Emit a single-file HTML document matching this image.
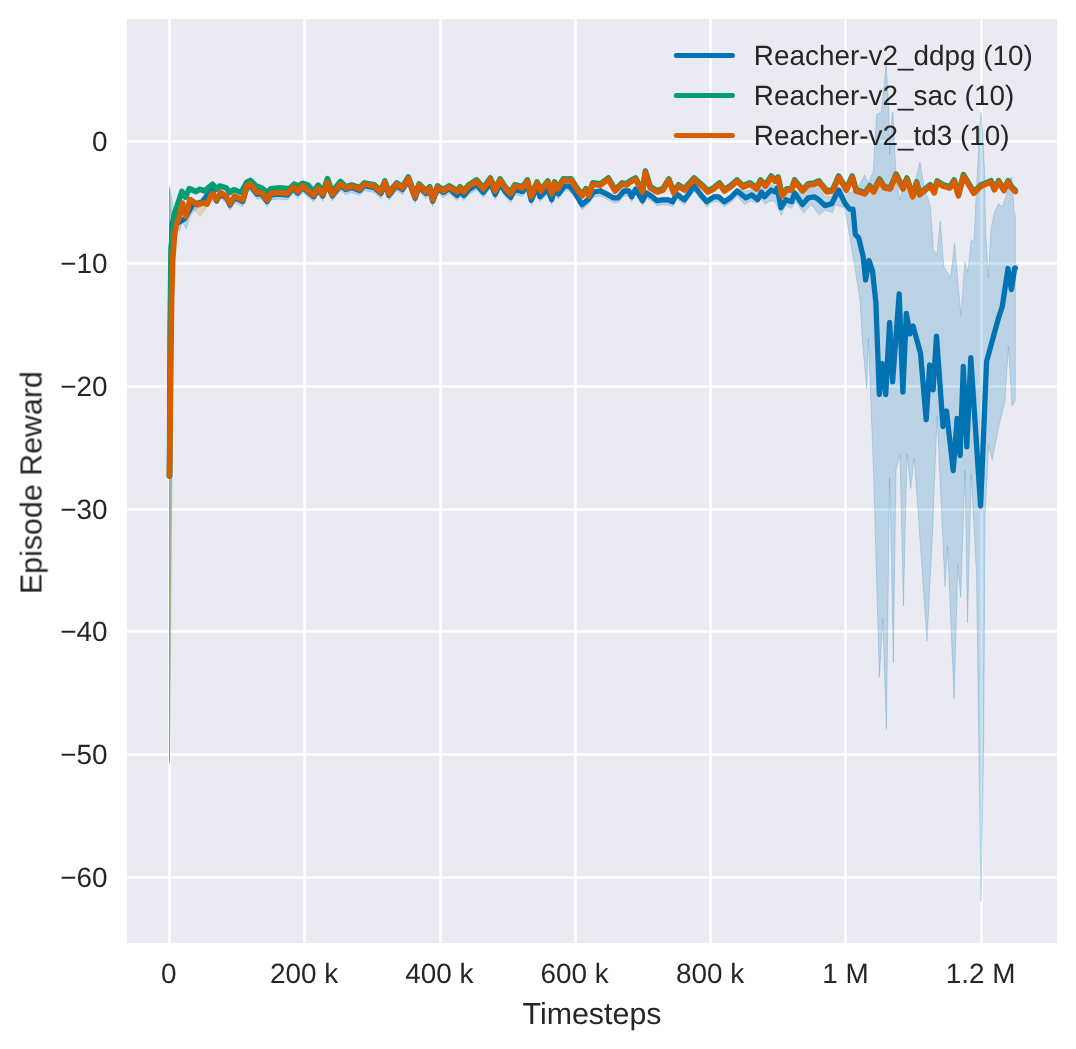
<!DOCTYPE html>
<html><head><meta charset="utf-8"><style>
html,body{margin:0;padding:0;background:#fff;width:1076px;height:1049px;overflow:hidden;}
svg{display:block;}
text{font-family:"Liberation Sans",sans-serif;fill:#262626;text-rendering:geometricPrecision;}
</style></head><body>
<svg width="1076" height="1049" viewBox="0 0 1076 1049">
<rect x="127" y="19" width="930" height="924" fill="#eaeaf2"/>
<line x1="169.5" y1="19" x2="169.5" y2="943" stroke="#fff" stroke-width="2.5"/>
<line x1="304.5" y1="19" x2="304.5" y2="943" stroke="#fff" stroke-width="2.5"/>
<line x1="440.5" y1="19" x2="440.5" y2="943" stroke="#fff" stroke-width="2.5"/>
<line x1="575.5" y1="19" x2="575.5" y2="943" stroke="#fff" stroke-width="2.5"/>
<line x1="710.5" y1="19" x2="710.5" y2="943" stroke="#fff" stroke-width="2.5"/>
<line x1="845.5" y1="19" x2="845.5" y2="943" stroke="#fff" stroke-width="2.5"/>
<line x1="981.5" y1="19" x2="981.5" y2="943" stroke="#fff" stroke-width="2.5"/>
<line x1="127" y1="141.50" x2="1057" y2="141.50" stroke="#fff" stroke-width="2.5"/>
<line x1="127" y1="263.50" x2="1057" y2="263.50" stroke="#fff" stroke-width="2.5"/>
<line x1="127" y1="386.50" x2="1057" y2="386.50" stroke="#fff" stroke-width="2.5"/>
<line x1="127" y1="509.50" x2="1057" y2="509.50" stroke="#fff" stroke-width="2.5"/>
<line x1="127" y1="631.50" x2="1057" y2="631.50" stroke="#fff" stroke-width="2.5"/>
<line x1="127" y1="754.50" x2="1057" y2="754.50" stroke="#fff" stroke-width="2.5"/>
<line x1="127" y1="877.50" x2="1057" y2="877.50" stroke="#fff" stroke-width="2.5"/>
<path d="M169.5,188.0 L172.0,222.5 L175.0,209.5 L179.5,219.5 L184.9,216.0 L192.6,202.2 L202.3,199.4 L211.5,186.8 L216.6,198.5 L220.6,191.5 L226.2,195.2 L229.9,202.7 L234.6,195.2 L242.9,199.0 L246.7,185.0 L250.4,183.2 L256.9,191.5 L261.5,191.5 L267.1,199.0 L270.8,192.5 L278.3,191.5 L287.5,192.5 L293.1,186.0 L297.8,190.6 L302.4,185.0 L313.6,194.3 L318.2,186.9 L322.9,193.4 L327.5,181.3 L332.2,193.4 L340.5,183.2 L345.9,187.1 L351.7,185.1 L359.5,188.0 L364.4,183.2 L374.2,185.1 L381.0,191.0 L384.9,181.2 L388.8,192.9 L396.6,183.2 L402.5,187.1 L408.3,177.3 L415.1,195.8 L419.0,184.1 L425.9,191.0 L429.8,187.1 L432.7,198.8 L437.6,186.1 L443.4,190.0 L449.3,186.1 L457.1,193.0 L460.0,189.1 L463.9,193.0 L468.8,187.1 L476.6,182.2 L483.4,190.0 L490.3,180.3 L495.2,192.0 L500.0,181.2 L505.9,190.0 L510.8,194.9 L514.7,187.1 L522.5,189.1 L527.4,182.2 L531.3,197.8 L537.1,184.2 L540.0,194.3 L547.8,186.5 L551.7,197.3 L554.6,187.5 L558.5,191.4 L564.4,183.6 L569.3,183.6 L575.1,190.4 L582.0,202.1 L587.8,197.3 L593.7,189.5 L600.5,188.5 L606.4,191.4 L613.2,195.3 L618.1,195.3 L623.9,188.5 L628.8,188.5 L631.7,194.3 L635.6,186.5 L642.5,198.2 L646.4,190.4 L651.2,193.4 L657.1,198.2 L663.0,197.3 L667.8,197.3 L672.7,199.2 L676.6,191.4 L684.4,197.3 L694.2,183.6 L701.0,192.4 L706.9,199.2 L713.7,194.3 L718.6,194.3 L724.4,199.2 L730.3,195.3 L737.1,188.5 L744.0,191.2 L751.2,190.0 L760.0,188.0 L771.2,184.5 L775.0,186.0 L784.6,194.5 L793.5,189.0 L802.5,195.6 L809.1,189.0 L817.0,186.2 L824.8,196.2 L831.4,196.8 L838.1,184.5 L835.0,197.6 L839.8,188.0 L849.3,192.9 L856.4,190.5 L864.8,175.0 L868.3,183.3 L873.1,171.4 L876.7,114.3 L881.4,111.9 L886.2,64.3 L888.3,100.0 L889.8,154.8 L891.5,120.0 L892.9,112.0 L895.7,169.0 L899.3,200.0 L906.4,178.0 L913.6,188.0 L920.0,162.0 L924.3,188.0 L930.2,205.0 L933.5,249.9 L936.9,255.0 L940.3,220.7 L943.8,267.0 L950.6,277.3 L954.6,243.0 L960.9,315.1 L964.9,261.9 L967.8,272.2 L971.2,239.6 L973.8,243.0 L976.4,191.5 L979.5,130.0 L981.0,112.0 L982.5,130.0 L984.5,170.0 L985.8,236.0 L988.4,277.3 L991.0,229.3 L994.4,212.1 L998.7,203.5 L1002.1,207.0 L1006.4,195.0 L1011.6,176.9 L1014.2,212.0 L1015.3,215.0 L1015.3,400.0 L1012.0,406.0 L1008.4,346.6 L1004.9,401.7 L999.4,423.5 L992.2,459.7 L988.6,445.0 L985.0,517.7 L983.7,740.0 L981.0,901.4 L976.5,574.0 L971.2,474.2 L967.5,622.8 L965.0,470.6 L960.7,597.4 L957.8,564.8 L954.1,698.8 L947.6,546.7 L945.0,586.5 L937.1,416.0 L932.4,535.8 L927.0,640.9 L920.0,540.0 L914.3,458.0 L910.7,488.7 L907.0,454.0 L903.4,606.0 L900.0,455.0 L896.0,470.0 L893.3,662.6 L891.5,560.0 L889.6,478.0 L886.4,729.6 L882.8,619.0 L879.3,677.0 L874.4,500.0 L872.0,430.0 L868.4,339.0 L866.7,388.7 L862.2,339.0 L860.0,300.0 L854.5,265.0 L846.9,221.0 L844.5,208.0 L835.0,204.8 L832.6,212.4 L824.8,210.0 L819.2,215.2 L811.4,204.5 L803.6,212.9 L795.8,202.0 L791.3,208.5 L785.7,205.0 L781.3,215.2 L774.6,201.1 L770.0,201.0 L765.1,204.0 L761.0,199.0 L756.7,203.2 L751.2,201.0 L744.5,204.6 L737.1,196.0 L730.3,202.8 L724.4,206.7 L718.6,201.8 L713.7,201.8 L706.9,206.7 L701.0,199.9 L694.2,191.1 L684.4,204.8 L676.6,198.9 L672.7,206.7 L667.8,204.8 L663.0,204.8 L657.1,205.7 L651.2,200.9 L646.4,197.9 L642.5,205.7 L635.6,194.0 L631.7,201.8 L628.8,196.0 L623.9,196.0 L618.1,202.8 L613.2,202.8 L606.4,198.9 L600.5,196.0 L593.7,197.0 L587.8,204.8 L582.0,209.6 L575.1,197.9 L569.3,191.1 L564.4,191.1 L558.5,198.9 L554.6,195.0 L551.7,204.8 L547.8,194.0 L540.0,201.8 L537.1,191.7 L531.3,205.3 L527.4,189.7 L522.5,196.6 L514.7,194.6 L510.8,202.4 L505.9,197.5 L500.0,188.7 L495.2,199.5 L490.3,187.8 L483.4,197.5 L476.6,189.7 L468.8,194.6 L463.9,200.5 L460.0,196.6 L457.1,200.5 L449.3,193.6 L443.4,197.5 L437.6,193.6 L432.7,206.3 L429.8,194.6 L425.9,198.5 L419.0,191.6 L415.1,203.3 L408.3,184.8 L402.5,194.6 L396.6,190.7 L388.8,200.4 L384.9,188.7 L381.0,198.5 L374.2,192.6 L364.4,190.7 L359.5,195.5 L351.7,192.6 L345.9,194.6 L340.5,190.7 L332.2,200.9 L327.5,188.8 L322.9,200.9 L318.2,194.4 L313.6,201.8 L302.4,192.5 L297.8,198.1 L293.1,193.5 L287.5,200.0 L278.3,199.0 L270.8,200.0 L267.1,206.5 L261.5,199.0 L256.9,199.0 L250.4,190.7 L246.7,192.5 L242.9,206.5 L234.6,202.7 L229.9,210.2 L226.2,202.7 L220.6,198.0 L216.6,204.0 L211.5,194.0 L207.0,203.0 L202.3,206.0 L196.0,209.0 L190.0,216.0 L186.2,229.0 L182.5,222.0 L179.3,231.0 L175.0,220.0 L172.0,232.0 L169.5,764.0Z" fill="#0173b2" fill-opacity="0.2" stroke="#0173b2" stroke-opacity="0.2" stroke-width="1" stroke-linejoin="miter" stroke-miterlimit="3"/>
<path d="M169.5,186.0 L174.4,212.8 L181.9,189.9 L185.3,195.6 L189.3,187.1 L196.0,190.1 L200.0,187.8 L204.6,189.5 L212.6,182.7 L216.6,187.8 L219.7,184.5 L226.2,186.4 L229.9,191.0 L233.6,188.2 L241.1,191.0 L246.7,180.8 L250.4,178.9 L255.9,184.5 L261.5,186.4 L267.1,191.0 L270.8,187.3 L280.1,186.4 L289.4,187.3 L294.1,182.7 L298.7,184.5 L302.4,181.7 L308.0,183.6 L313.6,190.1 L318.2,183.6 L322.9,190.1 L327.5,177.1 L332.2,190.1 L340.5,179.9 L345.9,185.3 L351.7,183.3 L359.5,186.2 L364.4,181.4 L374.2,183.3 L381.0,189.2 L384.9,179.4 L388.8,191.1 L396.6,181.4 L402.5,185.3 L408.3,175.5 L415.1,194.0 L419.0,182.3 L425.9,189.2 L429.8,185.3 L432.7,197.0 L437.6,184.3 L443.4,188.2 L449.3,184.3 L457.1,189.2 L460.0,185.3 L463.9,189.2 L468.8,183.3 L476.6,178.4 L483.4,186.2 L490.3,176.5 L495.2,188.2 L500.0,177.4 L505.9,186.2 L510.8,191.1 L514.7,183.3 L522.5,185.3 L527.4,178.4 L531.3,194.0 L537.1,180.4 L541.0,188.2 L547.8,179.4 L551.7,191.1 L554.6,180.4 L557.6,186.2 L563.4,177.4 L571.2,177.4 L576.1,185.3 L582.0,193.1 L585.9,187.2 L588.8,193.1 L592.7,181.4 L600.5,182.3 L608.3,176.5 L615.1,188.2 L622.0,181.4 L626.8,182.3 L629.8,179.4 L635.6,176.5 L642.5,189.2 L645.4,169.6 L650.3,185.3 L657.1,189.2 L663.0,187.2 L668.8,177.4 L673.7,190.1 L678.6,183.3 L684.4,187.2 L694.2,176.5 L702.0,183.3 L707.8,189.2 L713.7,186.2 L719.5,181.4 L724.4,188.2 L730.3,184.3 L737.1,178.4 L743.0,184.3 L749.8,181.4 L756.6,186.2 L760.5,178.4 L765.4,183.3 L771.2,174.5 L775.1,178.4 L778.1,175.5 L782.0,193.1 L786.8,187.2 L791.7,187.2 L794.6,178.4 L802.5,188.2 L808.3,182.3 L814.2,181.4 L819.0,179.4 L826.8,189.2 L832.7,188.2 L838.6,174.5 L846.4,187.2 L852.2,174.5 L856.1,188.2 L864.9,191.1 L869.8,184.3 L873.7,189.2 L879.5,177.4 L884.4,185.3 L890.3,186.2 L896.1,172.6 L903.0,186.2 L906.9,176.5 L912.7,194.0 L916.6,180.4 L919.5,192.1 L925.4,187.2 L930.3,183.3 L934.2,190.1 L937.1,179.4 L943.0,183.3 L949.8,185.2 L954.1,178.4 L958.4,193.0 L963.5,173.2 L973.8,190.4 L980.7,183.6 L991.0,179.2 L994.4,187.0 L998.7,179.2 L1003.9,187.8 L1008.2,179.2 L1011.6,185.2 L1015.3,188.7 L1015.3,192.2 L1011.6,188.7 L1008.2,182.7 L1003.9,191.3 L998.7,182.7 L994.4,190.5 L991.0,182.7 L980.7,187.1 L973.8,193.9 L963.5,176.7 L958.4,196.5 L954.1,181.9 L949.8,188.7 L943.0,186.8 L937.1,182.9 L934.2,193.6 L930.3,186.8 L925.4,190.7 L919.5,195.6 L916.6,183.9 L912.7,197.5 L906.9,180.0 L903.0,189.7 L896.1,176.1 L890.3,189.7 L884.4,188.8 L879.5,180.9 L873.7,192.7 L869.8,187.8 L864.9,194.6 L856.1,191.7 L852.2,178.0 L846.4,190.7 L838.6,178.0 L832.7,191.7 L826.8,192.7 L819.0,182.9 L814.2,184.9 L808.3,185.8 L802.5,191.7 L794.6,181.9 L791.7,190.7 L786.8,190.7 L782.0,196.6 L778.1,179.0 L775.1,181.9 L771.2,178.0 L765.4,186.8 L760.5,181.9 L756.6,189.7 L749.8,184.9 L743.0,187.8 L737.1,181.9 L730.3,187.8 L724.4,191.7 L719.5,184.9 L713.7,189.7 L707.8,192.7 L702.0,186.8 L694.2,180.0 L684.4,190.7 L678.6,186.8 L673.7,193.6 L668.8,180.9 L663.0,190.7 L657.1,192.7 L650.3,188.8 L645.4,173.1 L642.5,192.7 L635.6,180.0 L629.8,182.9 L626.8,185.8 L622.0,184.9 L615.1,191.7 L608.3,180.0 L600.5,185.8 L592.7,184.9 L588.8,196.6 L585.9,190.7 L582.0,196.6 L576.1,188.8 L571.2,180.9 L563.4,180.9 L557.6,189.7 L554.6,183.9 L551.7,194.6 L547.8,182.9 L541.0,191.7 L537.1,183.9 L531.3,197.5 L527.4,181.9 L522.5,188.8 L514.7,186.8 L510.8,194.6 L505.9,189.7 L500.0,180.9 L495.2,191.7 L490.3,180.0 L483.4,189.7 L476.6,181.9 L468.8,186.8 L463.9,192.7 L460.0,188.8 L457.1,192.7 L449.3,187.8 L443.4,191.7 L437.6,187.8 L432.7,200.5 L429.8,188.8 L425.9,192.7 L419.0,185.8 L415.1,197.5 L408.3,179.0 L402.5,188.8 L396.6,184.9 L388.8,194.6 L384.9,182.9 L381.0,192.7 L374.2,186.8 L364.4,184.9 L359.5,189.7 L351.7,186.8 L345.9,188.8 L340.5,183.4 L332.2,193.6 L327.5,180.6 L322.9,193.6 L318.2,187.1 L313.6,193.6 L308.0,187.1 L302.4,185.2 L298.7,188.0 L294.1,186.2 L289.4,190.8 L280.1,189.9 L270.8,190.8 L267.1,194.5 L261.5,189.9 L255.9,188.0 L250.4,182.4 L246.7,184.3 L241.1,194.5 L233.6,191.7 L229.9,194.5 L226.2,189.9 L219.7,188.0 L216.6,191.3 L212.6,186.2 L204.6,193.0 L200.0,191.3 L196.0,193.6 L189.3,190.6 L185.3,199.1 L181.9,193.4 L174.4,216.3 L169.5,760.0Z" fill="#029e73" fill-opacity="0.2" stroke="#029e73" stroke-opacity="0.2" stroke-width="1" stroke-linejoin="miter" stroke-miterlimit="3"/>
<path d="M169.5,190.0 L171.6,298.5 L172.7,258.5 L174.4,235.5 L176.1,224.2 L179.0,216.2 L182.4,201.4 L185.9,215.1 L189.9,197.9 L197.3,203.1 L203.0,201.4 L206.9,202.7 L212.1,191.8 L216.6,198.1 L220.6,191.0 L226.2,194.7 L229.9,202.2 L234.6,194.7 L242.9,198.5 L246.7,184.5 L250.4,182.7 L256.9,191.0 L261.5,191.0 L267.1,198.5 L270.8,192.0 L278.3,191.0 L287.5,192.0 L293.1,185.5 L297.8,190.1 L302.4,184.5 L313.6,193.8 L318.2,186.4 L322.9,192.9 L327.5,180.8 L332.2,192.9 L340.5,182.7 L345.9,186.6 L351.7,184.6 L359.5,187.5 L364.4,182.7 L374.2,184.6 L381.0,190.5 L384.9,180.7 L388.8,192.4 L396.6,182.7 L402.5,186.6 L408.3,176.8 L415.1,195.3 L419.0,183.6 L425.9,190.5 L429.8,186.6 L432.7,198.3 L437.6,185.6 L443.4,189.5 L449.3,185.6 L457.1,190.5 L460.0,186.6 L463.9,190.5 L468.8,184.6 L476.6,179.7 L483.4,187.5 L490.3,177.8 L495.2,189.5 L500.0,178.7 L505.9,187.5 L510.8,192.4 L514.7,184.6 L522.5,186.6 L527.4,179.7 L531.3,195.3 L537.1,181.7 L541.0,189.5 L547.8,180.7 L551.7,192.4 L554.6,181.7 L557.6,187.5 L563.4,178.7 L571.2,178.7 L576.1,186.6 L582.0,194.4 L585.9,188.5 L588.8,194.4 L592.7,182.7 L600.5,183.6 L608.3,177.8 L615.1,189.5 L622.0,182.7 L626.8,183.6 L629.8,180.7 L635.6,177.8 L642.5,190.5 L645.4,170.9 L650.3,186.6 L657.1,190.5 L663.0,188.5 L668.8,178.7 L673.7,191.4 L678.6,184.6 L684.4,188.5 L694.2,177.8 L702.0,184.6 L707.8,190.5 L713.7,187.5 L719.5,182.7 L724.4,189.5 L730.3,185.6 L737.1,179.7 L743.0,185.6 L749.8,182.7 L756.6,187.5 L760.5,179.7 L765.4,184.6 L771.2,175.8 L775.1,179.7 L778.1,176.8 L782.0,194.4 L786.8,188.5 L791.7,188.5 L794.6,179.7 L802.5,189.5 L808.3,183.6 L814.2,182.7 L819.0,180.7 L826.8,190.5 L832.7,189.5 L838.6,175.8 L846.4,188.5 L852.2,175.8 L856.1,189.5 L864.9,192.4 L869.8,185.6 L873.7,190.5 L879.5,178.7 L884.4,186.6 L890.3,187.5 L896.1,173.9 L903.0,187.5 L906.9,177.8 L912.7,195.3 L916.6,181.7 L919.5,193.4 L925.4,188.5 L930.3,184.6 L934.2,191.4 L937.1,180.7 L943.0,184.6 L949.8,186.5 L954.1,179.7 L958.4,194.3 L963.5,174.5 L973.8,191.7 L980.7,184.9 L991.0,180.5 L994.4,188.3 L998.7,180.5 L1003.9,189.1 L1008.2,180.5 L1011.6,186.5 L1015.3,190.0 L1015.3,194.0 L1011.6,190.5 L1008.2,184.5 L1003.9,193.1 L998.7,184.5 L994.4,192.3 L991.0,184.5 L980.7,188.9 L973.8,195.7 L963.5,178.5 L958.4,198.3 L954.1,183.7 L949.8,190.5 L943.0,188.6 L937.1,184.7 L934.2,195.4 L930.3,188.6 L925.4,192.5 L919.5,197.4 L916.6,185.7 L912.7,199.3 L906.9,181.8 L903.0,191.5 L896.1,177.9 L890.3,191.5 L884.4,190.6 L879.5,182.7 L873.7,194.5 L869.8,189.6 L864.9,196.4 L856.1,193.5 L852.2,179.8 L846.4,192.5 L838.6,179.8 L832.7,193.5 L826.8,194.5 L819.0,184.7 L814.2,186.7 L808.3,187.6 L802.5,193.5 L794.6,183.7 L791.7,192.5 L786.8,192.5 L782.0,198.4 L778.1,180.8 L775.1,183.7 L771.2,179.8 L765.4,188.6 L760.5,183.7 L756.6,191.5 L749.8,186.7 L743.0,189.6 L737.1,183.7 L730.3,189.6 L724.4,193.5 L719.5,186.7 L713.7,191.5 L707.8,194.5 L702.0,188.6 L694.2,181.8 L684.4,192.5 L678.6,188.6 L673.7,195.4 L668.8,182.7 L663.0,192.5 L657.1,194.5 L650.3,190.6 L645.4,174.9 L642.5,194.5 L635.6,181.8 L629.8,184.7 L626.8,187.6 L622.0,186.7 L615.1,193.5 L608.3,181.8 L600.5,187.6 L592.7,186.7 L588.8,198.4 L585.9,192.5 L582.0,198.4 L576.1,190.6 L571.2,182.7 L563.4,182.7 L557.6,191.5 L554.6,185.7 L551.7,196.4 L547.8,184.7 L541.0,193.5 L537.1,185.7 L531.3,199.3 L527.4,183.7 L522.5,190.6 L514.7,188.6 L510.8,196.4 L505.9,191.5 L500.0,182.7 L495.2,193.5 L490.3,181.8 L483.4,191.5 L476.6,183.7 L468.8,188.6 L463.9,194.5 L460.0,190.6 L457.1,194.5 L449.3,189.6 L443.4,193.5 L437.6,189.6 L432.7,202.3 L429.8,190.6 L425.9,194.5 L419.0,187.6 L415.1,199.3 L408.3,180.8 L402.5,190.6 L396.6,186.7 L388.8,196.4 L384.9,184.7 L381.0,194.5 L374.2,188.6 L364.4,186.7 L359.5,191.5 L351.7,188.6 L345.9,190.6 L340.5,186.7 L332.2,196.9 L327.5,184.8 L322.9,196.9 L318.2,190.4 L313.6,197.8 L302.4,188.5 L297.8,194.1 L293.1,189.5 L287.5,196.0 L278.3,195.0 L270.8,196.0 L267.1,202.5 L261.5,195.0 L256.9,195.0 L250.4,186.7 L246.7,188.5 L242.9,202.5 L234.6,198.7 L229.9,206.2 L226.2,198.7 L220.6,195.0 L219.0,199.0 L214.0,202.0 L210.0,200.0 L205.0,210.0 L200.0,216.5 L195.0,211.0 L189.9,205.0 L185.9,220.0 L182.4,208.0 L179.0,222.0 L176.1,230.0 L174.4,241.0 L172.7,264.0 L169.5,762.0Z" fill="#d55e00" fill-opacity="0.2" stroke="#d55e00" stroke-opacity="0.2" stroke-width="1" stroke-linejoin="miter" stroke-miterlimit="3"/>
<path d="M169.5,476.0 L170.6,300.0 L172.0,225.0 L175.0,212.0 L179.5,222.0 L184.9,218.5 L192.6,204.7 L202.3,201.9 L211.5,189.3 L216.6,201.0 L220.6,194.0 L226.2,197.7 L229.9,205.2 L234.6,197.7 L242.9,201.5 L246.7,187.5 L250.4,185.7 L256.9,194.0 L261.5,194.0 L267.1,201.5 L270.8,195.0 L278.3,194.0 L287.5,195.0 L293.1,188.5 L297.8,193.1 L302.4,187.5 L313.6,196.8 L318.2,189.4 L322.9,195.9 L327.5,183.8 L332.2,195.9 L340.5,185.7 L345.9,189.6 L351.7,187.6 L359.5,190.5 L364.4,185.7 L374.2,187.6 L381.0,193.5 L384.9,183.7 L388.8,195.4 L396.6,185.7 L402.5,189.6 L408.3,179.8 L415.1,198.3 L419.0,186.6 L425.9,193.5 L429.8,189.6 L432.7,201.3 L437.6,188.6 L443.4,192.5 L449.3,188.6 L457.1,195.5 L460.0,191.6 L463.9,195.5 L468.8,189.6 L476.6,184.7 L483.4,192.5 L490.3,182.8 L495.2,194.5 L500.0,183.7 L505.9,192.5 L510.8,197.4 L514.7,189.6 L522.5,191.6 L527.4,184.7 L531.3,200.3 L537.1,186.7 L540.0,196.8 L547.8,189.0 L551.7,199.8 L554.6,190.0 L558.5,193.9 L564.4,186.1 L569.3,186.1 L575.1,192.9 L582.0,204.6 L587.8,199.8 L593.7,192.0 L600.5,191.0 L606.4,193.9 L613.2,197.8 L618.1,197.8 L623.9,191.0 L628.8,191.0 L631.7,196.8 L635.6,189.0 L642.5,200.7 L646.4,192.9 L651.2,195.9 L657.1,200.7 L663.0,199.8 L667.8,199.8 L672.7,201.7 L676.6,193.9 L684.4,199.8 L694.2,186.1 L701.0,194.9 L706.9,201.7 L713.7,196.8 L718.6,196.8 L724.4,201.7 L730.3,197.8 L737.1,191.0 L745.9,197.8 L751.7,194.9 L757.6,199.8 L761.5,192.0 L764.4,196.8 L771.2,190.0 L775.1,192.0 L777.1,188.1 L781.0,207.6 L785.9,199.8 L791.7,201.7 L794.6,192.9 L802.5,204.6 L808.3,197.8 L814.2,196.8 L819.0,199.8 L824.9,205.6 L831.7,203.7 L838.6,190.0 L845.0,203.4 L849.6,209.2 L853.0,209.2 L855.3,234.3 L858.7,237.8 L863.3,257.2 L865.6,280.1 L869.0,260.6 L872.5,270.9 L875.9,303.0 L879.3,394.5 L882.3,363.6 L885.7,394.5 L889.6,322.4 L892.6,381.9 L899.2,293.8 L902.9,392.2 L906.3,313.3 L909.8,333.9 L913.0,325.9 L920.5,353.3 L926.2,419.7 L929.7,364.8 L933.1,389.9 L936.5,336.2 L943.0,426.5 L946.5,411.0 L953.2,470.5 L957.1,418.4 L960.1,455.6 L963.3,366.4 L966.8,446.9 L970.8,357.7 L980.6,506.0 L986.6,361.4 L998.5,318.0 L1002.2,306.9 L1008.0,268.5 L1011.4,289.6 L1014.6,268.5 L1015.3,268.0" fill="none" stroke="#0173b2" stroke-width="5.3" stroke-linejoin="round" stroke-linecap="round"/>
<path d="M169.5,476.0 L170.2,330.0 L171.0,248.6 L174.4,214.3 L181.9,191.4 L185.3,197.1 L189.3,188.6 L196.0,191.6 L200.0,189.3 L204.6,191.0 L212.6,184.2 L216.6,189.3 L219.7,186.0 L226.2,187.9 L229.9,192.5 L233.6,189.7 L241.1,192.5 L246.7,182.3 L250.4,180.4 L255.9,186.0 L261.5,187.9 L267.1,192.5 L270.8,188.8 L280.1,187.9 L289.4,188.8 L294.1,184.2 L298.7,186.0 L302.4,183.2 L308.0,185.1 L313.6,191.6 L318.2,185.1 L322.9,191.6 L327.5,178.6 L332.2,191.6 L340.5,181.4 L345.9,186.8 L351.7,184.8 L359.5,187.7 L364.4,182.9 L374.2,184.8 L381.0,190.7 L384.9,180.9 L388.8,192.6 L396.6,182.9 L402.5,186.8 L408.3,177.0 L415.1,195.5 L419.0,183.8 L425.9,190.7 L429.8,186.8 L432.7,198.5 L437.6,185.8 L443.4,189.7 L449.3,185.8 L457.1,190.7 L460.0,186.8 L463.9,190.7 L468.8,184.8 L476.6,179.9 L483.4,187.7 L490.3,178.0 L495.2,189.7 L500.0,178.9 L505.9,187.7 L510.8,192.6 L514.7,184.8 L522.5,186.8 L527.4,179.9 L531.3,195.5 L537.1,181.9 L541.0,189.7 L547.8,180.9 L551.7,192.6 L554.6,181.9 L557.6,187.7 L563.4,178.9 L571.2,178.9 L576.1,186.8 L582.0,194.6 L585.9,188.7 L588.8,194.6 L592.7,182.9 L600.5,183.8 L608.3,178.0 L615.1,189.7 L622.0,182.9 L626.8,183.8 L629.8,180.9 L635.6,178.0 L642.5,190.7 L645.4,171.1 L650.3,186.8 L657.1,190.7 L663.0,188.7 L668.8,178.9 L673.7,191.6 L678.6,184.8 L684.4,188.7 L694.2,178.0 L702.0,184.8 L707.8,190.7 L713.7,187.7 L719.5,182.9 L724.4,189.7 L730.3,185.8 L737.1,179.9 L743.0,185.8 L749.8,182.9 L756.6,187.7 L760.5,179.9 L765.4,184.8 L771.2,176.0 L775.1,179.9 L778.1,177.0 L782.0,194.6 L786.8,188.7 L791.7,188.7 L794.6,179.9 L802.5,189.7 L808.3,183.8 L814.2,182.9 L819.0,180.9 L826.8,190.7 L832.7,189.7 L838.6,176.0 L846.4,188.7 L852.2,176.0 L856.1,189.7 L864.9,192.6 L869.8,185.8 L873.7,190.7 L879.5,178.9 L884.4,186.8 L890.3,187.7 L896.1,174.1 L903.0,187.7 L906.9,178.0 L912.7,195.5 L916.6,181.9 L919.5,193.6 L925.4,188.7 L930.3,184.8 L934.2,191.6 L937.1,180.9 L943.0,184.8 L949.8,186.7 L954.1,179.9 L958.4,194.5 L963.5,174.7 L973.8,191.9 L980.7,185.1 L991.0,180.7 L994.4,188.5 L998.7,180.7 L1003.9,189.3 L1008.2,180.7 L1011.6,186.7 L1015.3,190.2" fill="none" stroke="#029e73" stroke-width="5.6" stroke-linejoin="round" stroke-linecap="round"/>
<path d="M169.5,476.0 L171.6,300.0 L172.7,260.0 L174.4,237.0 L176.1,225.7 L179.0,217.7 L182.4,202.9 L185.9,216.6 L189.9,199.4 L197.3,204.6 L203.0,202.9 L206.9,204.2 L212.1,193.3 L216.6,199.6 L220.6,192.5 L226.2,196.2 L229.9,203.7 L234.6,196.2 L242.9,200.0 L246.7,186.0 L250.4,184.2 L256.9,192.5 L261.5,192.5 L267.1,200.0 L270.8,193.5 L278.3,192.5 L287.5,193.5 L293.1,187.0 L297.8,191.6 L302.4,186.0 L313.6,195.3 L318.2,187.9 L322.9,194.4 L327.5,182.3 L332.2,194.4 L340.5,184.2 L345.9,188.1 L351.7,186.1 L359.5,189.0 L364.4,184.2 L374.2,186.1 L381.0,192.0 L384.9,182.2 L388.8,193.9 L396.6,184.2 L402.5,188.1 L408.3,178.3 L415.1,196.8 L419.0,185.1 L425.9,192.0 L429.8,188.1 L432.7,199.8 L437.6,187.1 L443.4,191.0 L449.3,187.1 L457.1,192.0 L460.0,188.1 L463.9,192.0 L468.8,186.1 L476.6,181.2 L483.4,189.0 L490.3,179.3 L495.2,191.0 L500.0,180.2 L505.9,189.0 L510.8,193.9 L514.7,186.1 L522.5,188.1 L527.4,181.2 L531.3,196.8 L537.1,183.2 L541.0,191.0 L547.8,182.2 L551.7,193.9 L554.6,183.2 L557.6,189.0 L563.4,180.2 L571.2,180.2 L576.1,188.1 L582.0,195.9 L585.9,190.0 L588.8,195.9 L592.7,184.2 L600.5,185.1 L608.3,179.3 L615.1,191.0 L622.0,184.2 L626.8,185.1 L629.8,182.2 L635.6,179.3 L642.5,192.0 L645.4,172.4 L650.3,188.1 L657.1,192.0 L663.0,190.0 L668.8,180.2 L673.7,192.9 L678.6,186.1 L684.4,190.0 L694.2,179.3 L702.0,186.1 L707.8,192.0 L713.7,189.0 L719.5,184.2 L724.4,191.0 L730.3,187.1 L737.1,181.2 L743.0,187.1 L749.8,184.2 L756.6,189.0 L760.5,181.2 L765.4,186.1 L771.2,177.3 L775.1,181.2 L778.1,178.3 L782.0,195.9 L786.8,190.0 L791.7,190.0 L794.6,181.2 L802.5,191.0 L808.3,185.1 L814.2,184.2 L819.0,182.2 L826.8,192.0 L832.7,191.0 L838.6,177.3 L846.4,190.0 L852.2,177.3 L856.1,191.0 L864.9,193.9 L869.8,187.1 L873.7,192.0 L879.5,180.2 L884.4,188.1 L890.3,189.0 L896.1,175.4 L903.0,189.0 L906.9,179.3 L912.7,196.8 L916.6,183.2 L919.5,194.9 L925.4,190.0 L930.3,186.1 L934.2,192.9 L937.1,182.2 L943.0,186.1 L949.8,188.0 L954.1,181.2 L958.4,195.8 L963.5,176.0 L973.8,193.2 L980.7,186.4 L991.0,182.0 L994.4,189.8 L998.7,182.0 L1003.9,190.6 L1008.2,182.0 L1011.6,188.0 L1015.3,191.5" fill="none" stroke="#d55e00" stroke-width="5.6" stroke-linejoin="round" stroke-linecap="round"/>
<g opacity="0.999">
<line x1="676.4" y1="55.4" x2="732.4" y2="55.4" stroke="#0173b2" stroke-width="5" stroke-linecap="round"/>
<text x="753.8" y="65.1" font-size="27.9">Reacher-v2_ddpg (10)</text>
<line x1="676.4" y1="95.4" x2="732.4" y2="95.4" stroke="#029e73" stroke-width="5" stroke-linecap="round"/>
<text x="753.8" y="105.1" font-size="27.9">Reacher-v2_sac (10)</text>
<line x1="676.4" y1="135.4" x2="732.4" y2="135.4" stroke="#d55e00" stroke-width="5" stroke-linecap="round"/>
<text x="753.8" y="145.1" font-size="27.9">Reacher-v2_td3 (10)</text>
<text x="107.5" y="150.5" font-size="27.9" text-anchor="end">0</text>
<text x="107.5" y="273.2" font-size="27.9" text-anchor="end">−10</text>
<text x="107.5" y="395.8" font-size="27.9" text-anchor="end">−20</text>
<text x="107.5" y="518.5" font-size="27.9" text-anchor="end">−30</text>
<text x="107.5" y="641.2" font-size="27.9" text-anchor="end">−40</text>
<text x="107.5" y="763.8" font-size="27.9" text-anchor="end">−50</text>
<text x="107.5" y="886.5" font-size="27.9" text-anchor="end">−60</text>
<text x="168.7" y="982.5" font-size="27.9" text-anchor="middle">0</text>
<text x="304.0" y="982.5" font-size="27.9" text-anchor="middle">200 k</text>
<text x="439.4" y="982.5" font-size="27.9" text-anchor="middle">400 k</text>
<text x="574.7" y="982.5" font-size="27.9" text-anchor="middle">600 k</text>
<text x="710.0" y="982.5" font-size="27.9" text-anchor="middle">800 k</text>
<text x="845.4" y="982.5" font-size="27.9" text-anchor="middle">1 M</text>
<text x="980.7" y="982.5" font-size="27.9" text-anchor="middle">1.2 M</text>
<text x="592" y="1024.3" font-size="30.4" text-anchor="middle">Timesteps</text>
<text transform="translate(41.5,482.6) rotate(-90)" font-size="30.4" text-anchor="middle">Episode Reward</text>
</g>
</svg>
</body></html>
